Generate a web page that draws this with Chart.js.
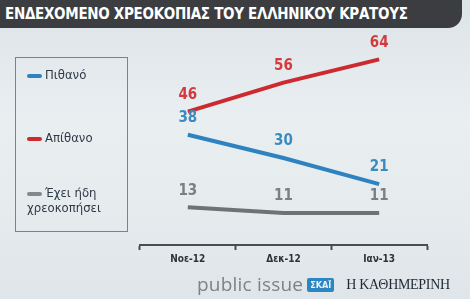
<!DOCTYPE html>
<html>
<head>
<meta charset="utf-8">
<script src="https://cdn.jsdelivr.net/npm/chart.js@4"></script>
<style>
  html, body { margin: 0; padding: 0; }
  body {
    width: 470px; height: 299px; overflow: hidden; position: relative;
    background: linear-gradient(180deg, #dde4e8 0%, #e9eef1 40%, #e6ebee 70%, #dfe5e9 100%);
    font-family: "DejaVu Sans Condensed", "DejaVu Sans", sans-serif;
  }
  #title {
    position: absolute; left: 0; top: 0; width: 462px; height: 28px;
    background: #3b3d40; border-radius: 0 0 14px 0;
    color: #fff; font-weight: bold; font-size: 15px; line-height: 28px;
    padding-left: 5px; box-sizing: border-box; letter-spacing: -0.3px;
  }
  #chartBox { position: absolute; left: 0; top: 0; width: 470px; height: 299px; }
  #legend {
    position: absolute; left: 15px; top: 57px; width: 113px; height: 175px;
    border: 1px solid #7c8288; box-sizing: border-box;
    color: #2e3a46; font-size: 13px;
  }
  .item { position: absolute; left: 11px; }
  .swatch { display: inline-block; width: 15px; height: 4px; vertical-align: middle; margin-right: 3px; border-radius: 2px; }
  #footer { position: absolute; left: 197px; top: 271px; white-space: nowrap; }
  #pi { font-family: "Open Sans", sans-serif; font-size: 19px; color: #7d8287; letter-spacing: 0.2px; }
  #skai { display: inline-block; background: #2b86c4; color: #e8f2fa; font-size: 9px; font-weight: bold; padding: 2px 3px; border-radius: 2px; vertical-align: 3px; margin-left: 4px; }
  #kath { font-family: "Liberation Serif", serif; font-size: 14px; color: #1f2a33; margin-left: 12px; vertical-align: 2px; letter-spacing: -0.3px; }
</style>
</head>
<body>
<div id="chartBox"><canvas id="chart" width="470" height="299"></canvas></div>
<div id="title">ΕΝΔΕΧΟΜΕΝΟ ΧΡΕΟΚΟΠΙΑΣ ΤΟΥ ΕΛΛΗΝΙΚΟΥ ΚΡΑΤΟΥΣ</div>
<div id="legend">
  <div class="item" style="top:9px"><span class="swatch" style="background:#2d82bf"></span>Πιθανό</div>
  <div class="item" style="top:72px"><span class="swatch" style="background:#cc2a2e"></span>Απίθανο</div>
  <div class="item" style="top:127px"><span class="swatch" style="background:#85888b"></span>Έχει ήδη<br>χρεοκοπήσει</div>
</div>
<div id="footer"><span id="pi">public issue</span><span id="skai">ΣΚΑΪ</span><span id="kath">Η ΚΑΘΗΜΕΡΙΝΗ</span></div>
<script>
const months = ["Νοε-12", "Δεκ-12", "Ιαν-13"];
const likely = [38, 30, 21];
const unlikely = [46, 56, 64];
const alreadyDefaulted = [13, 11, 11];

const valueLabels = {
  id: "valueLabels",
  afterDatasetsDraw(chart) {
    const ctx = chart.ctx;
    ctx.save();
    ctx.font = "bold 15px 'DejaVu Sans Condensed', sans-serif";
    ctx.textAlign = "center";
    ctx.textBaseline = "bottom";
    chart.data.datasets.forEach((ds, i) => {
      const meta = chart.getDatasetMeta(i);
      ctx.fillStyle = ds.labelColor;
      meta.data.forEach((pt, j) => {
        ctx.fillText(ds.data[j], pt.x, pt.y - 9);
      });
    });
    ctx.restore();
  }
};

new Chart(document.getElementById("chart").getContext("2d"), {
  type: "line",
  data: {
    labels: months,
    datasets: [
      { label: "Πιθανό", data: likely, borderColor: "#2d82bf", labelColor: "#3a8cc0", borderWidth: 4, pointRadius: 0, tension: 0 },
      { label: "Απίθανο", data: unlikely, borderColor: "#cc2a2e", labelColor: "#d43a3c", borderWidth: 4, pointRadius: 0, tension: 0 },
      { label: "Έχει ήδη χρεοκοπήσει", data: alreadyDefaulted, borderColor: "#6f7275", labelColor: "#7c7f82", borderWidth: 4, pointRadius: 0, tension: 0 }
    ]
  },
  options: {
    responsive: false,
    animation: false,
    layout: { padding: { left: 140, right: 43, top: 42, bottom: 31 } },
    scales: {
      x: {
        offset: true,
        grid: { display: true, drawOnChartArea: false, offset: true, tickLength: 5, color: "#4a4d50", tickWidth: 2 },
        border: { display: true, color: "#4a4d50", width: 2 },
        ticks: { color: "#2e3338", font: { family: "'DejaVu Sans Condensed', sans-serif", size: 10, weight: "bold" }, padding: 3 }
      },
      y: { display: false, min: 0, max: 70 }
    },
    plugins: { legend: { display: false }, tooltip: { enabled: false } }
  },
  plugins: [valueLabels]
});
</script>
</body>
</html>
